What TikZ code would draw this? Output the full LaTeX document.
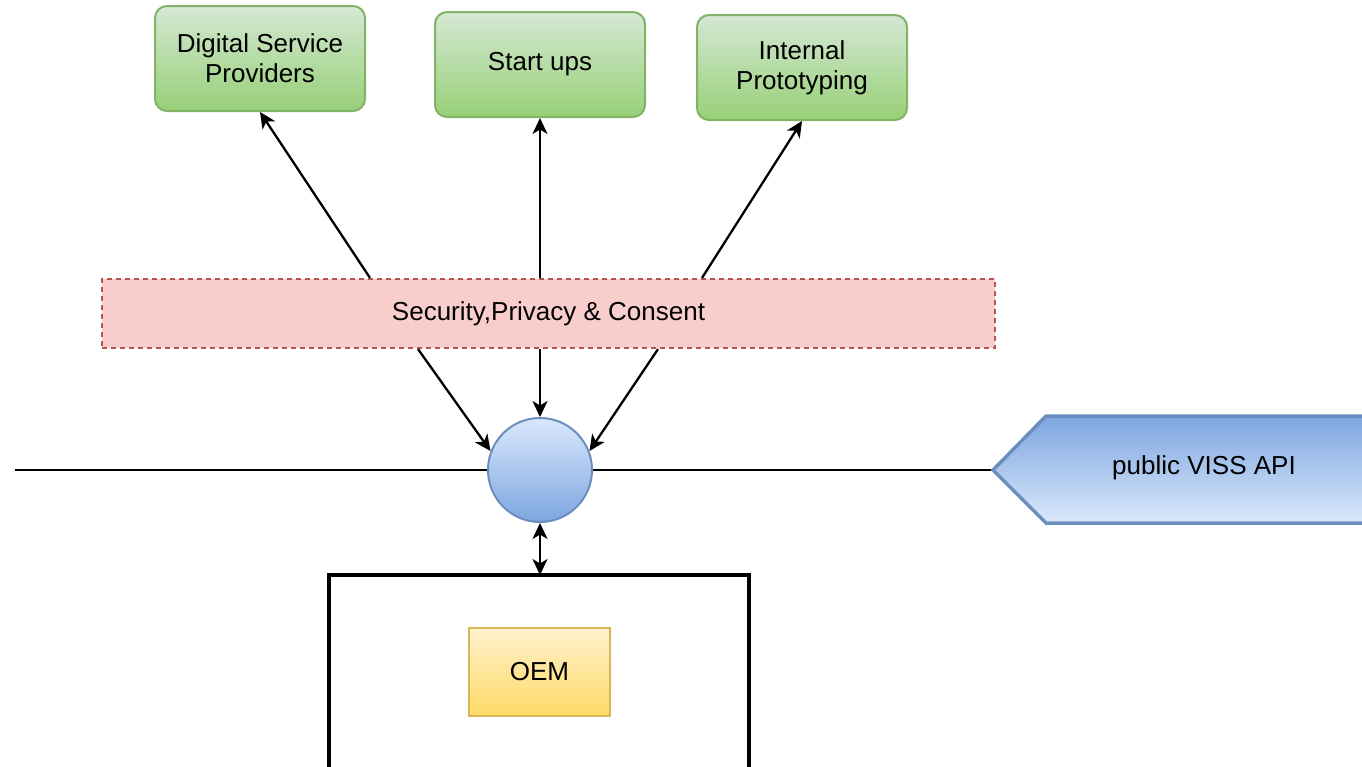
\documentclass[tikz,border=0pt]{standalone}
\usepackage{fontspec}
\setmainfont{Liberation Sans}
\usetikzlibrary{arrows.meta,calc}
\definecolor{grfill}{HTML}{D5E8D4}
\definecolor{grfill2}{HTML}{97D077}
\definecolor{grline}{HTML}{82B366}
\definecolor{pkfill}{HTML}{F8CECC}
\definecolor{pkline}{HTML}{B85450}
\definecolor{blfill}{HTML}{DAE8FC}
\definecolor{blfill2}{HTML}{7EA6E0}
\definecolor{blline}{HTML}{6C8EBF}
\definecolor{ylfill}{HTML}{FFF2CC}
\definecolor{ylfill2}{HTML}{FFD966}
\definecolor{ylline}{HTML}{D6B656}
\begin{document}
\begin{tikzpicture}[x=1pt,y=-1pt,
  font=\fontsize{26}{30}\selectfont,
  greenbox/.style={draw=grline,line width=2pt,rounded corners=12pt,top color=grfill,bottom color=grfill2,
    minimum width=210pt,minimum height=105pt,align=center,inner sep=0pt},
  secbox/.style={draw=pkline,fill=pkfill,dashed,dash pattern=on 5pt off 4pt,line width=2.2pt,
    minimum width=893pt,minimum height=69pt,inner sep=0pt},
  hubcircle/.style={circle,draw=blline,line width=2pt,top color=blfill,bottom color=blfill2,
    minimum size=104pt,inner sep=0pt},
  oembox/.style={draw=ylline,line width=2pt,top color=ylfill,bottom color=ylfill2,
    minimum width=141pt,minimum height=88pt,inner sep=0pt},
  tipx/.tip={Stealth[length=16pt,width=15pt,inset=4.5pt]},
  arr/.style={line width=2.3pt,-tipx},
  darr/.style={line width=2.3pt,tipx-tipx}
]
\useasboundingbox (0,0) rectangle (1362,766);
\clip (0,0) rectangle (1362,766);
\fill[white] (0,0) rectangle (1362,766);

% green boxes
\node[greenbox] (dsp) at (260,58.5) {Digital Service\\Providers};
\node[greenbox] (stu) at (540,64.5) {Start ups};
\node[greenbox] (ipr) at (802,67.5) {Internal\\Prototyping};

% security box
\node[secbox] (sec) at (548.5,313.5) {Security,Privacy \& Consent};

% horizontal line and API pentagon
\coordinate (lend) at (15,470);
\coordinate (tip) at (993,470);
\draw[line width=2.6pt] (lend) -- (tip);
\shade[top color=blfill2,bottom color=blfill,draw=blline,line width=3.5pt]
  (tip) -- (1046,416) -- (1372,416) -- (1372,523) -- (1046,523) -- cycle;
\node (api) at (1204,468) {public VISS API};

% hub
\node[hubcircle] (hub) at (540,470) {};

% OEM container
\draw[line width=3.5pt] (329,780) |- (749,575) -- (749,780);
\coordinate (cont) at (540,575);
\node[oembox] (oem) at (539.5,672) {OEM};

% connectors
\draw[arr] ([xshift=-178.5pt]sec.north) -- (dsp.south);
\draw[arr] ([xshift=-8.5pt]sec.north) -- (stu.south);
\draw[arr] ([xshift=153.5pt]sec.north) -- (ipr.south);
\draw[arr] ([xshift=-130.5pt]sec.south) -- (hub.159);
\draw[arr] ([xshift=-8.5pt]sec.south) -- (hub.north);
\draw[arr] ([xshift=109.5pt]sec.south) -- (hub.21);
\draw[darr] (hub.south) -- (cont);
\end{tikzpicture}
\end{document}
